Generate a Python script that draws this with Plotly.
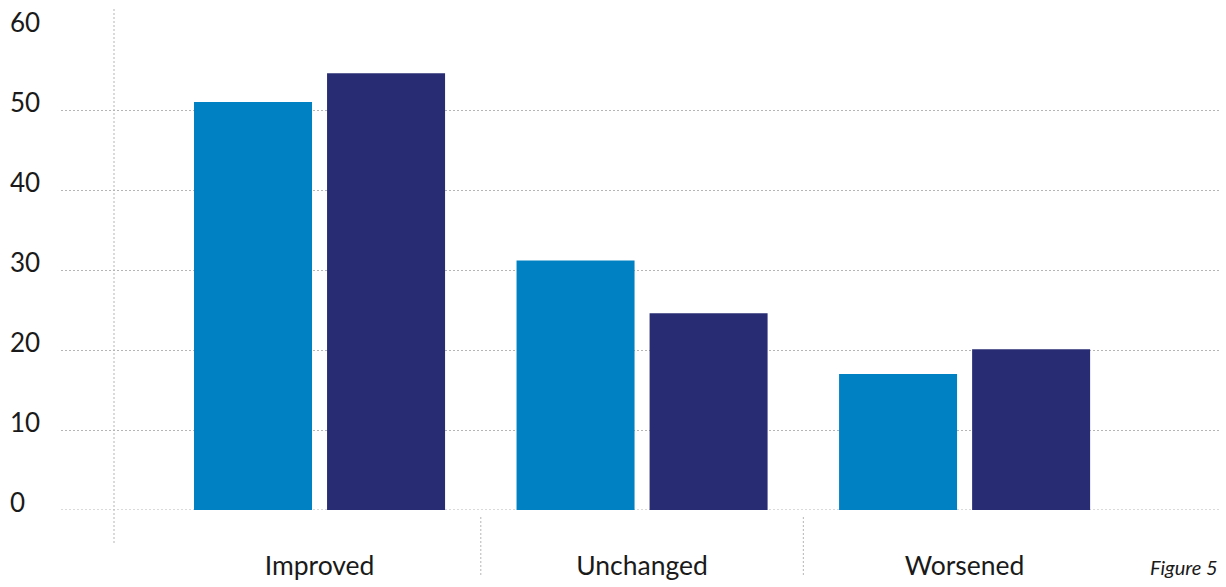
import plotly.graph_objects as go

categories = ["Improved", "Unchanged", "Worsened"]
series_a = [51.0, 31.2, 17.0]
series_b = [54.6, 24.6, 20.1]
y_ticks = [0, 10, 20, 30, 40, 50, 60]
figure_label = "Figure 5"

W, H = 1226, 587
L, R, T, B = 61, 5, 30, 77
plot_w = W - L - R
plot_h = H - T - B

def px_x(px):
    return (px - L) / plot_w

def px_y(py):
    return (H - B - py) / plot_h

GRID = "#b5b5b5"
DOT = "2px,2px"

fig = go.Figure()
fig.add_trace(go.Bar(x=categories, y=series_a, marker_color="#0081C3", marker_line_width=0, name="A"))
fig.add_trace(go.Bar(x=categories, y=series_b, marker_color="#282D73", marker_line_width=0, name="B"))

fig.update_layout(
    width=W, height=H,
    margin=dict(l=L, r=R, t=T, b=B, pad=0),
    paper_bgcolor="white", plot_bgcolor="white",
    barmode="group", bargap=0.175, bargroupgap=0.113,
    showlegend=False,
    font=dict(family="Lato", color="#1a1a1a"),
)
fig.update_xaxes(
    type="category", range=[-0.8016, 2.795],
    showgrid=False, zeroline=False, showline=False,
    ticks="outside", ticklen=32, tickcolor="rgba(0,0,0,0)",
    tickfont=dict(family="Lato", size=26.5, color="#1a1a1a"),
)
fig.update_yaxes(
    range=[0, 60], tickvals=y_ticks, showticklabels=False,
    showgrid=True, gridcolor=GRID, gridwidth=1, griddash=DOT,
    zeroline=False, showline=False,
)

# y tick labels, left aligned above the grid lines
for v in y_ticks:
    fig.add_annotation(
        x=px_x(8), xref="paper", xanchor="left",
        y=v, yref="y", yanchor="middle", yshift=8,
        text=str(v), showarrow=False,
        font=dict(family="Lato", size=26, color="#1a1a1a"),
    )

# dotted zero gridline (range starts at 0)
fig.add_shape(type="line", xref="paper", yref="y", x0=0, x1=1, y0=0, y1=0,
              line=dict(color=GRID, width=1, dash=DOT), layer="below")

# vertical dotted axis line
fig.add_shape(type="line", xref="paper", yref="paper",
              x0=px_x(114), x1=px_x(114), y0=px_y(9), y1=px_y(545),
              line=dict(color=GRID, width=1, dash=DOT), layer="below")

# category separators
for xv in [0.5, 1.5]:
    fig.add_shape(type="line", xref="x", yref="paper",
                  x0=xv, x1=xv, y0=px_y(517), y1=px_y(575),
                  line=dict(color=GRID, width=1, dash=DOT))

fig.add_annotation(
    x=px_x(1220), xref="paper", xanchor="right",
    y=px_y(567), yref="paper", yanchor="middle",
    text="<i>" + figure_label + "</i>", showarrow=False,
    font=dict(family="Lato", size=20, color="#1a1a1a"),
)

fig.write_html("out.html")
